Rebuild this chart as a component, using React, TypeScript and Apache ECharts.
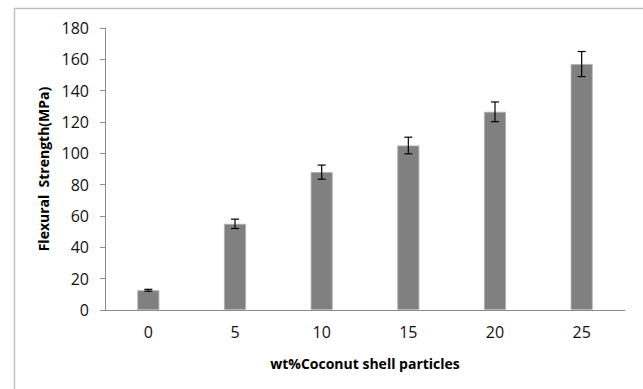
import React, { useEffect, useRef } from "react";
import * as echarts from "echarts";

const categories = ["0", "5", "10", "15", "20", "25"];
const strength = [12.6, 55, 88, 105, 126.5, 157];
const errors = [0.6, 3, 4.5, 5.3, 6.3, 8];
const yTicks = { min: 0, max: 180, interval: 20 };

export default function App() {
  const ref = useRef<HTMLDivElement>(null);
  useEffect(() => {
    const chart = echarts.init(ref.current!, null, { renderer: "svg" });
    const errData = categories.map((_, i) => [i, strength[i] - errors[i], strength[i] + errors[i]]);
    chart.setOption({
      animation: false,
      textStyle: { fontFamily: "Open Sans" },
      graphic: [
        {
          type: "rect",
          shape: { x: 14.5, y: 8.5, width: 700, height: 500 },
          style: { fill: "none", stroke: "#c0c0c0", lineWidth: 1.5 },
          silent: true,
        },
      ],
      grid: { left: 105, right: 18, top: 28, bottom: 79 },
      xAxis: {
        type: "category",
        data: categories,
        name: "wt%Coconut shell particles",
        nameLocation: "middle",
        nameGap: 46,
        nameTextStyle: { fontSize: 14, fontWeight: "bold", color: "#000", fontFamily: "Open Sans" },
        axisLine: { lineStyle: { color: "#8c8c8c", width: 1 } },
        axisTick: { show: false },
        axisLabel: { fontSize: 16, color: "#111", margin: 14 },
      },
      yAxis: {
        type: "value",
        min: yTicks.min,
        max: yTicks.max,
        interval: yTicks.interval,
        name: "Flexural  Strength(MPa)",
        nameLocation: "middle",
        nameGap: 54,
        nameTextStyle: { fontSize: 14, fontWeight: "bold", color: "#000", fontFamily: "Open Sans" },
        axisLine: { show: true, lineStyle: { color: "#8c8c8c", width: 1 } },
        axisTick: { show: true, length: 5, lineStyle: { color: "#8c8c8c" } },
        splitLine: { show: false },
        axisLabel: { fontSize: 16, color: "#111", margin: 16 },
      },
      series: [
        {
          type: "bar",
          data: strength,
          barWidth: 22,
          itemStyle: { color: "#808080", borderColor: "#b0b0b0", borderWidth: 0.8 },
        },
        {
          type: "custom",
          data: errData,
          z: 10,
          renderItem: (params: any, api: any) => {
            const x = api.value(0);
            const lo = api.coord([x, api.value(1)]);
            const hi = api.coord([x, api.value(2)]);
            const hw = 4;
            const style = { stroke: "#000", lineWidth: 1.2 };
            return {
              type: "group",
              children: [
                { type: "line", shape: { x1: lo[0], y1: lo[1], x2: hi[0], y2: hi[1] }, style },
                { type: "line", shape: { x1: lo[0] - hw, y1: lo[1], x2: lo[0] + hw, y2: lo[1] }, style },
                { type: "line", shape: { x1: hi[0] - hw, y1: hi[1], x2: hi[0] + hw, y2: hi[1] }, style },
              ],
            };
          },
        },
      ],
    });
    return () => chart.dispose();
  }, []);
  return <div ref={ref} style={{ position: "fixed", left: 0, top: 0, width: 643, height: 389, background: "#fff" }} />;
}
